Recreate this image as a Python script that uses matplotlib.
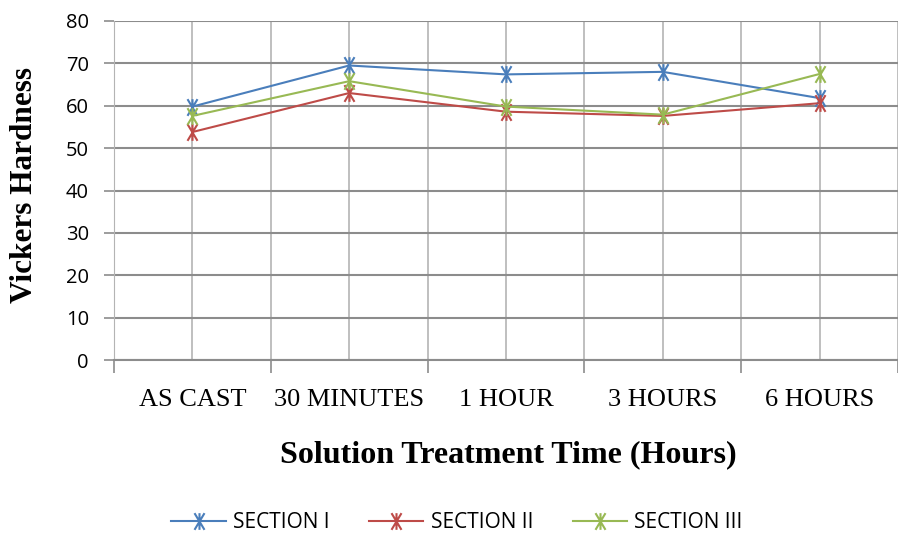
import numpy as np
import matplotlib.pyplot as plt
from matplotlib.path import Path

categories = ["AS CAST", "30 MINUTES", "1 HOUR", "3 HOURS", "6 HOURS"]
section_1 = [59.8, 69.5, 67.4, 68.0, 61.8]
section_2 = [53.8, 63.0, 58.6, 57.6, 60.6]
section_3 = [57.6, 65.8, 59.8, 57.9, 67.5]
series_names = ["SECTION I", "SECTION II", "SECTION III"]
colors = ["#4a7ebb", "#be4b48", "#98b954"]

# Excel-style star marker: an X plus a vertical bar
star = Path(
    [(-0.6, -1), (0.6, 1), (-0.6, 1), (0.6, -1), (0, -1), (0, 1)],
    [Path.MOVETO, Path.LINETO, Path.MOVETO, Path.LINETO, Path.MOVETO, Path.LINETO],
)

fig = plt.figure(figsize=(8.98, 5.43), dpi=100)
ax = fig.add_axes([114 / 898, 1 - 360 / 543, 1 - 114 / 898, (360 - 21) / 543])

x = np.arange(len(categories))
for vals, name, c in zip([section_1, section_2, section_3], series_names, colors):
    ax.plot(x, vals, color=c, lw=1.5, marker=star, markersize=12,
            markeredgewidth=1.5, markeredgecolor=c, markerfacecolor="none",
            label=name, zorder=3)

ax.set_ylim(0, 80)
ax.set_yticks(range(0, 81, 10))
ax.set_xlim(-0.5, 4.454)

# category boundaries carry tick marks, centres carry labels
ax.set_xticks(np.arange(-0.5, 5, 1))
ax.set_xticklabels([])
ax.set_xticks(x, minor=True)
ax.set_xticklabels(categories, minor=True, family="Liberation Serif", fontsize=19)
ax.tick_params(axis="x", which="major", length=9, color="#8c8c8c", width=1.2)
ax.tick_params(axis="x", which="minor", length=0, pad=21)
ax.tick_params(axis="y", length=7, color="#8c8c8c", width=1.2, labelsize=14.5, pad=11)
for lbl in ax.get_yticklabels():
    lbl.set_family("Open Sans")

ax.grid(axis="y", color="#8c8c8c", lw=1.5)
ax.grid(axis="x", which="both", color="#b4b4b4", lw=1.2)
ax.set_axisbelow(True)
for s in ["top", "right"]:
    ax.spines[s].set_visible(False)
ax.spines["left"].set_color("#b4b4b4")
ax.spines["bottom"].set_color("#8c8c8c")
ax.spines["bottom"].set_linewidth(1.5)

fig.text(25 / 898, 1 - 185 / 543, "Vickers Hardness", family="Liberation Serif",
         fontweight="bold", fontsize=22.5, rotation=90, ha="center", va="center")
fig.text(508 / 898, 1 - 455 / 543, "Solution Treatment Time (Hours)",
         family="Liberation Serif", fontweight="bold", fontsize=23,
         ha="center", va="center")

leg = fig.legend(loc="center", bbox_to_anchor=(457 / 898, 1 - 523 / 543), ncol=3,
                 frameon=False, handlelength=2.6, columnspacing=1.9,
                 handletextpad=0.35, prop={"family": "Open Sans", "size": 15})

fig.savefig("out.png", dpi=100)
